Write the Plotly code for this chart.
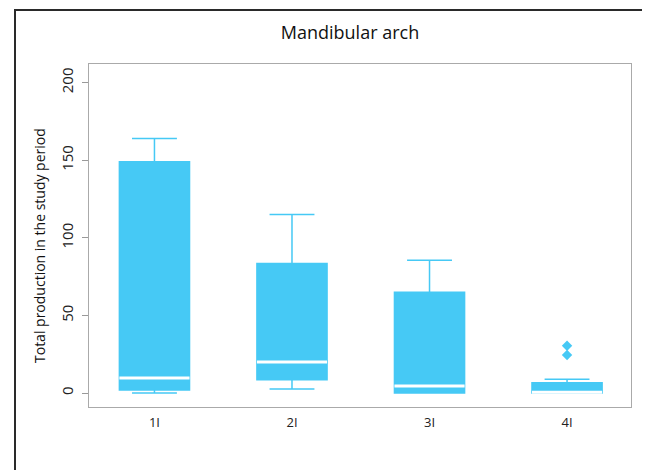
import plotly.graph_objects as go

categories = ["1I", "2I", "3I", "4I"]
q1 = [2.0, 8.5, 0.0, 0.0]
median = [9.7, 20.0, 4.5, 0.5]
q3 = [149.0, 83.5, 65.0, 6.6]
lower = [0.0, 2.6, 0.0, 0.0]
upper = [164.0, 115.0, 85.5, 8.8]
outlier_x = ["4I", "4I"]
outlier_y = [30.5, 24.5]

BLUE = "#46C9F5"
W, H = 650, 470
OFF = 8  # page body offset of the rendered figure
L, T = 89 - OFF, 64 - OFF
R = W - (631 - OFF)
B = H - (407 - OFF)
pw, ph = W - L - R, H - T - B


def px(x):
    return (x - OFF - L) / pw


def py(y):
    return (H - B - (y - OFF)) / ph


fig = go.Figure()
fig.add_trace(go.Box(
    x=categories, q1=q1, median=median, q3=q3,
    lowerfence=lower, upperfence=upper,
    fillcolor=BLUE, line=dict(color=BLUE, width=1.5),
    width=0.51, whiskerwidth=0.64, boxpoints=False,
    showlegend=False, hoverinfo="skip",
))
fig.add_trace(go.Box(
    x=categories, q1=median, median=median, q3=median,
    lowerfence=median, upperfence=median,
    fillcolor="rgba(0,0,0,0)", line=dict(color="white", width=3),
    width=0.51, whiskerwidth=0, boxpoints=False,
    showlegend=False, hoverinfo="skip",
))
fig.add_trace(go.Scatter(
    x=outlier_x, y=outlier_y, mode="markers",
    marker=dict(symbol="diamond", size=8, color=BLUE),
    showlegend=False, hoverinfo="skip",
))

fig.update_layout(
    width=W, height=H,
    margin=dict(l=L, r=R, t=T, b=B, autoexpand=False),
    paper_bgcolor="white", plot_bgcolor="white",
    boxmode="overlay",
    font=dict(family="Open Sans, Lato, sans-serif", color="#222222", size=12),
    title=dict(text="Mandibular arch", x=(350 - OFF) / W, xref="container", xanchor="center",
               y=1 - (33 - OFF) / H, yref="container", yanchor="middle",
               font=dict(size=18, color="#111111")),
    xaxis=dict(
        type="category", categoryorder="array", categoryarray=categories,
        range=[-0.476, 3.465], showgrid=False, zeroline=False,
        showline=True, linecolor="#AAAAAA", linewidth=1, mirror=True,
        ticks="", tickfont=dict(size=13, color="#222222"),
        ticklabelstandoff=3,
    ),
    yaxis=dict(
        range=[-9, 212], tickvals=[0, 50, 100, 150, 200],
        showgrid=False, zeroline=False,
        showline=True, linecolor="#AAAAAA", linewidth=1, mirror=True,
        ticks="outside", ticklen=6, tickcolor="#999999",
        tickangle=-90, tickfont=dict(size=15, color="#222222"),
        ticklabelstandoff=3,
    ),
    annotations=[
        dict(text="Total production in the study period", textangle=-90,
             xref="paper", yref="paper", x=px(40), y=py(246),
             xanchor="center", yanchor="middle", showarrow=False,
             font=dict(size=14, color="#111111")),
    ],
    shapes=[
        dict(type="line", xref="paper", yref="paper",
             x0=px(15), x1=px(660), y0=py(10), y1=py(10),
             line=dict(color="#2A2A2A", width=2)),
        dict(type="line", xref="paper", yref="paper",
             x0=px(15), x1=px(15), y0=py(9), y1=py(480),
             line=dict(color="#2A2A2A", width=2)),
    ],
)

fig.write_html("out.html")
